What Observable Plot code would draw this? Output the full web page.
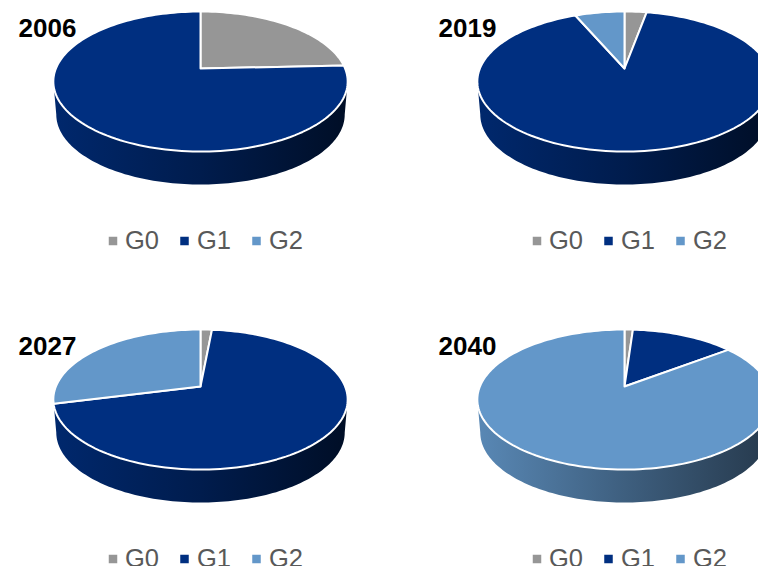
<!DOCTYPE html>
<html><head><meta charset="utf-8">
<script src="https://cdn.jsdelivr.net/npm/d3@7"></script>
<script src="https://cdn.jsdelivr.net/npm/@observablehq/plot@0.6"></script>
<style>html,body{margin:0;padding:0;background:#fff;overflow:hidden}svg{display:block}</style>
</head><body><div id="chart"></div>
<script>
// Data (percent shares)
const years = ["2006", "2019", "2027", "2040"];
const seriesNames = ["G0", "G1", "G2"];
const g0 = [24.3, 2.9, 1.5, 1.1];
const g1 = [75.7, 90.6, 69.6, 13.6];
const g2 = [0, 6.5, 28.9, 85.3];

// Layout and style
const W = 758, H = 566;
const colors = ["#969696", "#002f80", "#6397c9"];
const walls = [[.9, .62, .33], [.85, .6, .3], [.9, .63, .38]];
const cols = [200, 624], rows = [68, 386];
const k = 144.6, a = 67.6, c = -0.186, depth = 33;
const titleDx = [-182, -186], titleDy = -40;
const legendDy = 172, swatchDx = [-87.5, -16, 56], labelDx = [-75.5, -3.5, 68.5];

const project = (cx, cy, theta, dy = 0, sx = 1) => {
  const u = Math.sin(theta), v = -Math.cos(theta), w = 1 + c * v;
  return {x: cx + sx * k * u / w, y: cy + a * v / w + dy};
};
const panels = years.map((year, i) => ({
  year, cx: cols[i % 2], cy: rows[i >> 1], col: i % 2,
  values: [g0[i], g1[i], g2[i]]
}));

const slices = [], wallPts = [], titles = [], swatches = [], labels = [];
panels.forEach((p, pi) => {
  let start = 0, frontIdx = 0;
  p.values.forEach((val, si) => {
    if (!val) return;
    const end = start + val;
    if (start <= 50 && end >= 50) frontIdx = si;
    const id = `${p.year}-${si}`;
    slices.push({id, series: seriesNames[si], x: p.cx, y: p.cy});
    const n = Math.max(2, Math.ceil(val * 2));
    for (let j = 0; j <= n; j++) {
      const t = (start + (end - start) * j / n) / 100 * 2 * Math.PI;
      slices.push({id, series: seriesNames[si], ...project(p.cx, p.cy, t)});
    }
    start = end;
  });
  // visible rim: from the right tangent, under the front, to the left tangent
  const t0 = Math.PI / 2 + Math.asin(-c), t1 = 2 * Math.PI - t0;
  const w = [project(p.cx, p.cy, t0)];
  for (let j = 0; j <= 120; j++) w.push(project(p.cx, p.cy, t0 + (t1 - t0) * j / 120, depth, 0.98));
  w.push(project(p.cx, p.cy, t1));
  wallPts.push({id: p.year, front: frontIdx, pts: w});
  titles.push({text: p.year, x: p.cx + titleDx[p.col], y: p.cy + titleDy});
  seriesNames.forEach((s, si) => {
    swatches.push({series: s, x: p.cx + swatchDx[si], y: p.cy + legendDy + 0.5});
    labels.push({text: s, x: p.cx + labelDx[si], y: p.cy + legendDy + 0.5});
  });
});

const chart = Plot.plot({
  width: W, height: H,
  marginTop: 0, marginRight: 0, marginBottom: 0, marginLeft: 0,
  x: {domain: [0, W], range: [0, W], axis: null},
  y: {domain: [0, H], range: [0, H], axis: null},
  color: {domain: seriesNames, range: colors},
  style: {background: "#fff", fontFamily: "'Liberation Sans', Arial, sans-serif"},
  marks: [
    ...wallPts.map(w => Plot.line(w.pts, {x: "x", y: "y", curve: "linear", fill: `url(#wall-${w.id})`, stroke: "none"})),
    Plot.line(slices, {x: "x", y: "y", z: "id", fill: "series", stroke: "#fff", strokeWidth: 2, strokeLinejoin: "round", curve: "linear-closed"}),
    Plot.text(titles, {x: "x", y: "y", text: "text", textAnchor: "start", fontSize: 26, fontWeight: "bold", fill: "#000", lineAnchor: "middle"}),
    Plot.dot(swatches, {x: "x", y: "y", fill: "series", symbol: "square", r: 4.8, stroke: "none"}),
    Plot.text(labels, {x: "x", y: "y", text: "text", textAnchor: "start", fontSize: 25.5, fill: "#595959", lineAnchor: "middle"})
  ]
});

// Horizontal shading of the rim
const defs = d3.select(chart).insert("defs", ":first-child");
wallPts.forEach(w => {
  const base = d3.rgb(colors[w.front]);
  const g = defs.append("linearGradient").attr("id", `wall-${w.id}`).attr("x1", 0).attr("x2", 1).attr("y1", 0).attr("y2", 0);
  walls[w.front].forEach((m, i) => g.append("stop")
    .attr("offset", i / 2)
    .attr("stop-color", d3.rgb(base.r * m, base.g * m, base.b * m).formatHex()));
});
document.getElementById("chart").appendChild(chart);
</script></body></html>
